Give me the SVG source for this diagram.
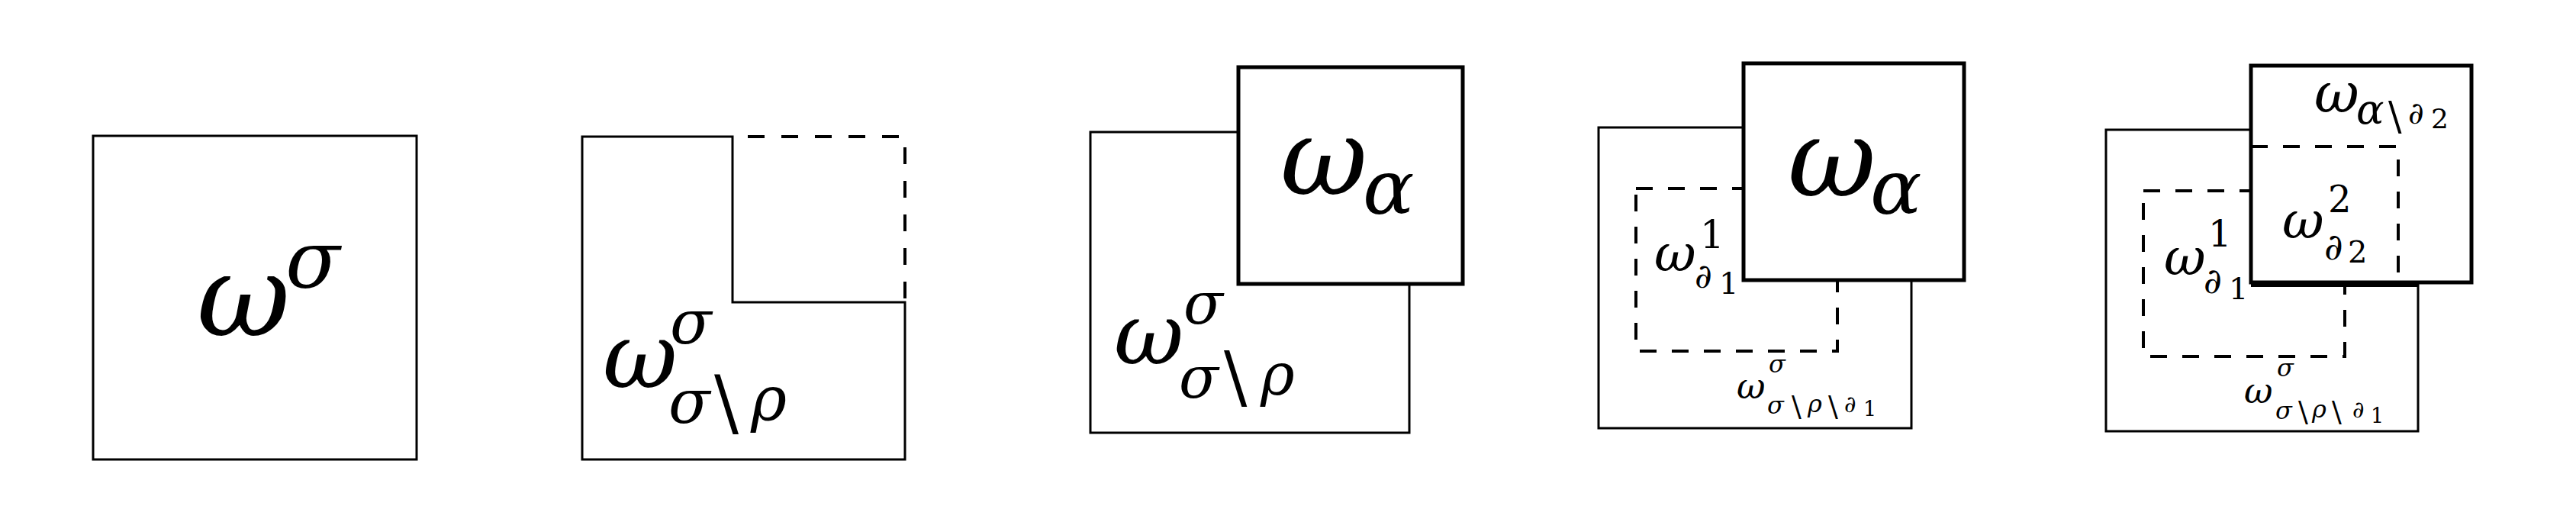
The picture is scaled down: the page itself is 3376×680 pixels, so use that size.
<svg xmlns="http://www.w3.org/2000/svg" width="3376" height="680" viewBox="0 0 3376 680">
<style>
.bg{fill:#fff}
.box{fill:none;stroke:#000;stroke-width:3}
.abox{fill:#fff;stroke:#000;stroke-width:5}
.dash{fill:none;stroke:#000;stroke-width:4}
.thick{fill:none;stroke:#000;stroke-width:6}
text{font-family:"DejaVu Serif",serif;fill:#000}
.i{font-style:italic}
</style>
<rect class="bg" x="0" y="0" width="3376" height="680"/>
<g id="connectors"/>

<g id="panel1">
  <rect class="box" x="122" y="178" width="424" height="424"/>
  <text class="i" x="258" y="440" font-size="150">ω</text>
  <text class="i" x="374" y="377" font-size="105">σ</text>
</g>

<g id="panel2">
  <path class="box" d="M1186,396 L960,396 L960,179 L763,179 L763,602 L1186,602 Z"/>
  <path class="dash" stroke-dasharray="22 22" stroke-dashoffset="-20" d="M960,179 L1186,179 L1186,396"/>
  <text class="i" x="790" y="508" font-size="120">ω</text>
  <text class="i" x="878" y="450" font-size="80">σ</text>
  <text class="i" x="876" y="554" font-size="80">σ</text>
  <text x="936" y="560" font-size="95">\</text>
  <text class="i" x="984" y="550" font-size="80">ρ</text>
</g>

<g id="panel3">
  <rect class="box" x="1429" y="173" width="418" height="394"/>
  <rect class="abox" x="1623" y="88" width="294" height="284"/>
  <text class="i" x="1678" y="255" font-size="140">ω</text>
  <text class="i" x="1786" y="280" font-size="100">α</text>
  <text class="i" x="1460" y="477" font-size="112">ω</text>
  <text class="i" x="1551" y="424" font-size="76">σ</text>
  <text class="i" x="1545" y="521" font-size="76">σ</text>
  <text x="1604" y="525" font-size="90">\</text>
  <text class="i" x="1652" y="517" font-size="76">ρ</text>
</g>

<g id="panel4">
  <rect class="box" x="2095" y="167" width="410" height="394"/>
  <rect class="dash" stroke-dasharray="22 20" x="2144" y="247" width="264" height="213"/>
  <rect class="abox" x="2285" y="83" width="289" height="284"/>
  <text class="i" x="2343" y="257" font-size="142">ω</text>
  <text class="i" x="2451" y="280" font-size="100">α</text>
  <text class="i" x="2168" y="355" font-size="67">ω</text>
  <text x="2228" y="325" font-size="50">1</text>
  <text class="i" x="2221" y="377" font-size="44">∂</text>
  <text x="2253" y="385" font-size="40">1</text>
  <text class="i" x="2276" y="522" font-size="46">ω</text>
  <text class="i" x="2318" y="488" font-size="32">σ</text>
  <text class="i" x="2316" y="542" font-size="32">σ</text>
  <text x="2348" y="545" font-size="38">\</text>
  <text class="i" x="2369" y="540" font-size="32">ρ</text>
  <text x="2396" y="545" font-size="38">\</text>
  <text class="i" x="2417" y="540" font-size="30">∂</text>
  <text x="2442" y="545" font-size="27">1</text>
</g>

<g id="panel5">
  <rect class="box" x="2760" y="170" width="409" height="395"/>
  <rect class="dash" stroke-dasharray="22 20" x="2809" y="250" width="264" height="217"/>
  <rect class="abox" x="2950" y="86" width="289" height="284"/>
  <path class="dash" stroke-dasharray="22 20" d="M2950,192 L3143,192 L3143,373"/>
  <line class="thick" x1="2950" y1="373" x2="3169" y2="373"/>
  <text class="i" x="3033" y="147" font-size="72">ω</text>
  <text class="i" x="3088" y="162" font-size="54">α</text>
  <text x="3130" y="170" font-size="52">\</text>
  <text class="i" x="3156" y="162" font-size="40">∂</text>
  <text x="3186" y="168" font-size="36">2</text>
  <text class="i" x="2991" y="312" font-size="67">ω</text>
  <text x="3051" y="278" font-size="48">2</text>
  <text class="i" x="3046" y="340" font-size="48">∂</text>
  <text x="3077" y="344" font-size="40">2</text>
  <text class="i" x="2836" y="360" font-size="67">ω</text>
  <text x="2894" y="323" font-size="48">1</text>
  <text class="i" x="2888" y="384" font-size="46">∂</text>
  <text x="2921" y="392" font-size="40">1</text>
  <text class="i" x="2941" y="528" font-size="46">ω</text>
  <text class="i" x="2984" y="493" font-size="32">σ</text>
  <text class="i" x="2982" y="549" font-size="32">σ</text>
  <text x="3012" y="552" font-size="38">\</text>
  <text class="i" x="3030" y="547" font-size="32">ρ</text>
  <text x="3056" y="552" font-size="38">\</text>
  <text class="i" x="3083" y="547" font-size="30">∂</text>
  <text x="3107" y="554" font-size="27">1</text>
</g>
</svg>
